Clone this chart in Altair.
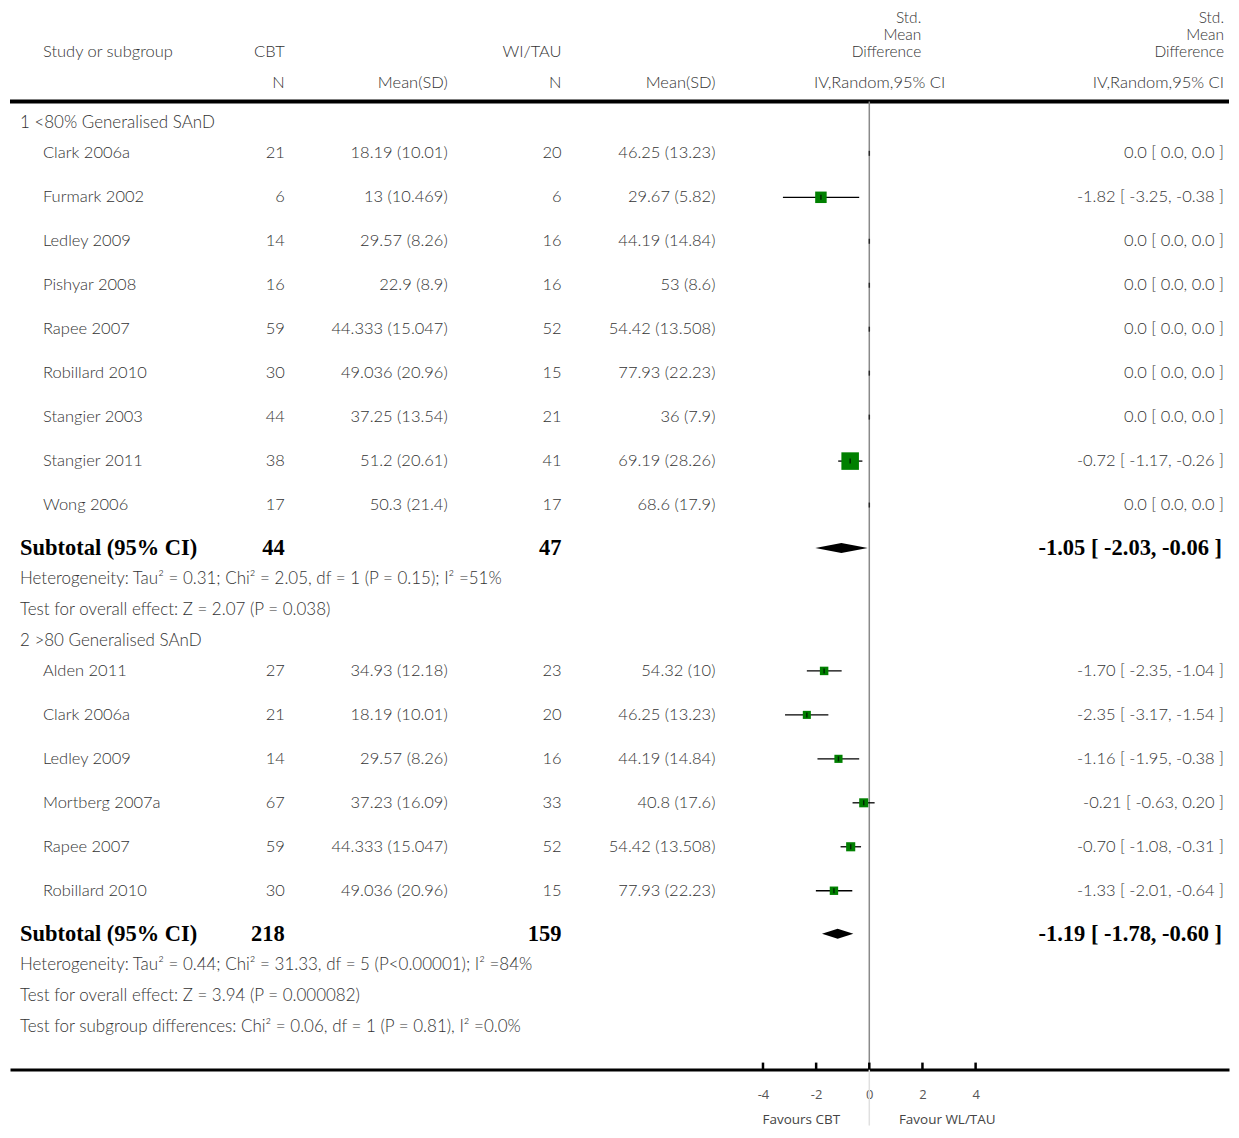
import altair as alt
import pandas as pd

# ---------------- data ----------------
g1_title = "1 <80% Generalised SAnD"
g1_study = ["Clark 2006a", "Furmark 2002", "Ledley 2009", "Pishyar 2008", "Rapee 2007",
            "Robillard 2010", "Stangier 2003", "Stangier 2011", "Wong 2006"]
g1_cbt_n = [21, 6, 14, 16, 59, 30, 44, 38, 17]
g1_cbt_msd = ["18.19 (10.01)", "13 (10.469)", "29.57 (8.26)", "22.9 (8.9)", "44.333 (15.047)",
              "49.036 (20.96)", "37.25 (13.54)", "51.2 (20.61)", "50.3 (21.4)"]
g1_wl_n = [20, 6, 16, 16, 52, 15, 21, 41, 17]
g1_wl_msd = ["46.25 (13.23)", "29.67 (5.82)", "44.19 (14.84)", "53 (8.6)", "54.42 (13.508)",
             "77.93 (22.23)", "36 (7.9)", "69.19 (28.26)", "68.6 (17.9)"]
g1_est = [0.0, -1.82, 0.0, 0.0, 0.0, 0.0, 0.0, -0.72, 0.0]
g1_lo = [0.0, -3.25, 0.0, 0.0, 0.0, 0.0, 0.0, -1.17, 0.0]
g1_hi = [0.0, -0.38, 0.0, 0.0, 0.0, 0.0, 0.0, -0.26, 0.0]
g1_weight = [0, 30, 0, 0, 0, 0, 0, 70, 0]
g1_sub_n = [44, 47]
g1_sub = [-1.05, -2.03, -0.06]
g1_het = "Heterogeneity: Tau² = 0.31; Chi² = 2.05, df = 1 (P = 0.15); I² =51%"
g1_test = "Test for overall effect: Z = 2.07 (P = 0.038)"

g2_title = "2 >80 Generalised SAnD"
g2_study = ["Alden 2011", "Clark 2006a", "Ledley 2009", "Mortberg 2007a", "Rapee 2007", "Robillard 2010"]
g2_cbt_n = [27, 21, 14, 67, 59, 30]
g2_cbt_msd = ["34.93 (12.18)", "18.19 (10.01)", "29.57 (8.26)", "37.23 (16.09)", "44.333 (15.047)", "49.036 (20.96)"]
g2_wl_n = [23, 20, 16, 33, 52, 15]
g2_wl_msd = ["54.32 (10)", "46.25 (13.23)", "44.19 (14.84)", "40.8 (17.6)", "54.42 (13.508)", "77.93 (22.23)"]
g2_est = [-1.70, -2.35, -1.16, -0.21, -0.70, -1.33]
g2_lo = [-2.35, -3.17, -1.95, -0.63, -1.08, -2.01]
g2_hi = [-1.04, -1.54, -0.38, 0.20, -0.31, -0.64]
g2_weight = [16.4, 14.8, 15.1, 18.6, 18.9, 16.1]
g2_sub_n = [218, 159]
g2_sub = [-1.19, -1.78, -0.60]
g2_het = "Heterogeneity: Tau² = 0.44; Chi² = 31.33, df = 5 (P<0.00001); I² =84%"
g2_test = "Test for overall effect: Z = 3.94 (P = 0.000082)"
subgroup_diff = "Test for subgroup differences: Chi² = 0.06, df = 1 (P = 0.81), I² =0.0%"

axis_ticks = [-4, -2, 0, 2, 4]
fav_left = "Favours CBT"
fav_right = "Favour WL/TAU"

# ---------------- layout ----------------
OX = 9           # page x of the plot origin (page margin + axis stroke overhang)
OY = 8           # page y of the plot origin
W, H = 1220, 1062
PX_PER_UNIT = 26.6
X0 = 869 - OX    # plot px of zero
xmin = -X0 / PX_PER_UNIT
xmax = xmin + W / PX_PER_UNIT

HEADER_LINE = 101
STUDY_STEP = 44
LINE_STEP = 31


def ci_text(e, l, h):
    if e == 0 and l == 0 and h == 0:
        return "0.0 [ 0.0, 0.0 ]"
    return f"{e:.2f} [ {l:.2f}, {h:.2f} ]"


study_rows, info_rows, sub_rows, diamond_rows = [], [], [], []
y = HEADER_LINE + 22
groups = [
    (g1_title, g1_study, g1_cbt_n, g1_cbt_msd, g1_wl_n, g1_wl_msd, g1_est, g1_lo, g1_hi, g1_weight,
     g1_sub_n, g1_sub, [g1_het, g1_test]),
    (g2_title, g2_study, g2_cbt_n, g2_cbt_msd, g2_wl_n, g2_wl_msd, g2_est, g2_lo, g2_hi, g2_weight,
     g2_sub_n, g2_sub, [g2_het, g2_test, subgroup_diff]),
]
for gi, (title, st, cn, cm, wn, wm, es, lo, hi, wt, sn, sb, infos) in enumerate(groups):
    info_rows.append({"y": y, "t": title})
    y += 30
    for i in range(len(st)):
        study_rows.append({"y": y, "study": st[i], "cn": str(cn[i]), "cm": cm[i], "wn": str(wn[i]),
                           "wm": wm[i], "est": es[i], "lo": lo[i], "hi": hi[i], "w": wt[i],
                           "ci": ci_text(es[i], lo[i], hi[i]), "hasci": lo[i] != hi[i]})
        y += STUDY_STEP
    y -= 1
    sub_rows.append({"y": y, "t": "Subtotal (95% CI)", "cn": str(sn[0]), "wn": str(sn[1]),
                     "ci": ci_text(*sb)})
    for xv, hh in [(sb[1], 0), (sb[0], 5), (sb[2], 0)]:
        diamond_rows.append({"g": gi, "x": xv, "y1": y - hh, "y2": y + hh})
    y += LINE_STEP
    for t in infos:
        info_rows.append({"y": y, "t": t})
        y += LINE_STEP

studies = pd.DataFrame(study_rows)
cis = studies[studies["hasci"]]
infos_df = pd.DataFrame(info_rows)
subs = pd.DataFrame(sub_rows)
diam = pd.DataFrame(diamond_rows)

xscale = alt.Scale(domain=[xmin, xmax], nice=False, zero=False)
xaxis = alt.Axis(values=axis_ticks, title=None, grid=False, ticks=False, domainWidth=3,
                 domainColor="black", labelPadding=19, labelFontSize=13, labelColor="#555",
                 labelFont="Open Sans", labelFontWeight="normal", labelExpr="datum.value + ''")
yscale = alt.Scale(domain=[OY, OY + H], reverse=True, nice=False, zero=False)
Y = alt.Y("y:Q", scale=yscale, axis=None)

FONT = "Lato"
FS = 16.5
TXT = "#333"


def col_text(df, field, xpx, align, **kw):
    params = dict(align=align, baseline="middle", font=FONT, fontSize=FS, color=TXT, fontWeight=300)
    params.update(kw)
    return alt.Chart(df).mark_text(**params).encode(x=alt.value(xpx - OX), y=Y, text=f"{field}:N")


layers = []
# study rows text
layers += [
    col_text(studies, "study", 42, "left"),
    col_text(studies, "cn", 284, "right"),
    col_text(studies, "cm", 447, "right"),
    col_text(studies, "wn", 561, "right"),
    col_text(studies, "wm", 715, "right"),
    col_text(studies, "ci", 1224, "right"),
    col_text(infos_df, "t", 19, "left", fontSize=17),
]
bold = dict(font="Liberation Serif", fontSize=22.5, fontWeight="bold", color="black")
layers += [
    col_text(subs, "t", 19, "left", **bold),
    col_text(subs, "cn", 284, "right", **bold),
    col_text(subs, "wn", 561, "right", **bold),
    col_text(subs, "ci", 1222, "right", **bold),
]

# header texts
hdr = pd.DataFrame([
    {"y": 52, "t": "Study or subgroup", "x": 42, "a": "left"},
    {"y": 52, "t": "CBT", "x": 284, "a": "right"},
    {"y": 52, "t": "WI/TAU", "x": 561, "a": "right"},
    {"y": 83, "t": "N", "x": 284, "a": "right"},
    {"y": 83, "t": "Mean(SD)", "x": 447, "a": "right"},
    {"y": 83, "t": "N", "x": 561, "a": "right"},
    {"y": 83, "t": "Mean(SD)", "x": 715, "a": "right"},
])
for i in range(len(hdr)):
    r = hdr.iloc[i]
    layers.append(col_text(hdr.iloc[[i]], "t", int(r["x"]), r["a"]))

for rx in (921, 1224):
    smd = pd.DataFrame({"y": [18, 35, 52], "t": ["Std.", "Mean", "Difference"]})
    layers.append(col_text(smd, "t", rx, "right", fontSize=15.5))
ivr = pd.DataFrame({"y": [83, 83], "t": ["IV,Random,95% CI", "IV,Random,95% CI"]})
layers.append(col_text(ivr.iloc[[0]], "t", 945, "right"))
layers.append(col_text(ivr.iloc[[1]], "t", 1224, "right"))

# header rule
layers.append(alt.Chart(pd.DataFrame({"y": [HEADER_LINE]})).mark_rule(color="black", strokeWidth=4)
              .encode(x=alt.value(0), x2=alt.value(W), y=Y))

# zero line
layers.append(alt.Chart(pd.DataFrame({"v": [0]})).mark_rule(color="#8a8a8a", strokeWidth=1.5)
              .encode(x=alt.X("v:Q", scale=xscale, axis=xaxis),
                      y=alt.value(HEADER_LINE - OY), y2=alt.value(H)))
layers.append(alt.Chart(pd.DataFrame({"v": [0]})).mark_rule(color="#e0e0e0", strokeWidth=1.5)
              .encode(x=alt.X("v:Q", scale=xscale, axis=xaxis),
                      y=alt.value(H), y2=alt.value(H + 56)))

# CI lines
layers.append(alt.Chart(cis).mark_rule(color="black", strokeWidth=1.3)
              .encode(x=alt.X("lo:Q", scale=xscale, axis=xaxis), x2="hi:Q", y=Y))
# squares
layers.append(alt.Chart(cis).mark_square(color="#008000", opacity=1)
              .encode(x=alt.X("est:Q", scale=xscale, axis=xaxis), y=Y,
                      size=alt.Size("w:Q", scale=alt.Scale(domain=[0, 100], range=[0, 440]), legend=None)))
# estimate ticks
layers.append(alt.Chart(studies).mark_tick(color="black", thickness=1.5, size=5, orient="vertical")
              .encode(x=alt.X("est:Q", scale=xscale, axis=xaxis), y=Y))
# diamonds
layers.append(alt.Chart(diam).mark_area(color="black", opacity=1)
              .encode(x=alt.X("x:Q", scale=xscale, axis=xaxis),
                      y=alt.Y("y1:Q", scale=yscale, axis=None), y2="y2:Q", detail="g:N"))
# axis ticks (pointing up)
layers.append(alt.Chart(pd.DataFrame({"t": axis_ticks})).mark_rule(color="black", strokeWidth=2.5)
              .encode(x=alt.X("t:Q", scale=xscale, axis=xaxis), y=alt.value(H - 7), y2=alt.value(H)))
# favours labels
fav = pd.DataFrame({"t": [fav_left, fav_right], "xp": [801, 947]})
for i in range(2):
    layers.append(alt.Chart(fav.iloc[[i]]).mark_text(font="Open Sans", fontSize=13.5, color="#444",
                                                       align="center", baseline="middle")
                  .encode(x=alt.value(int(fav["xp"][i]) - OX), y=alt.value(1120 - OY), text="t:N"))

chart = (alt.layer(*layers)
         .properties(width=W, height=H, padding=0, background="white")
         .configure_view(stroke=None))

chart.save("out.html", embed_options={"renderer": "svg", "actions": False})
